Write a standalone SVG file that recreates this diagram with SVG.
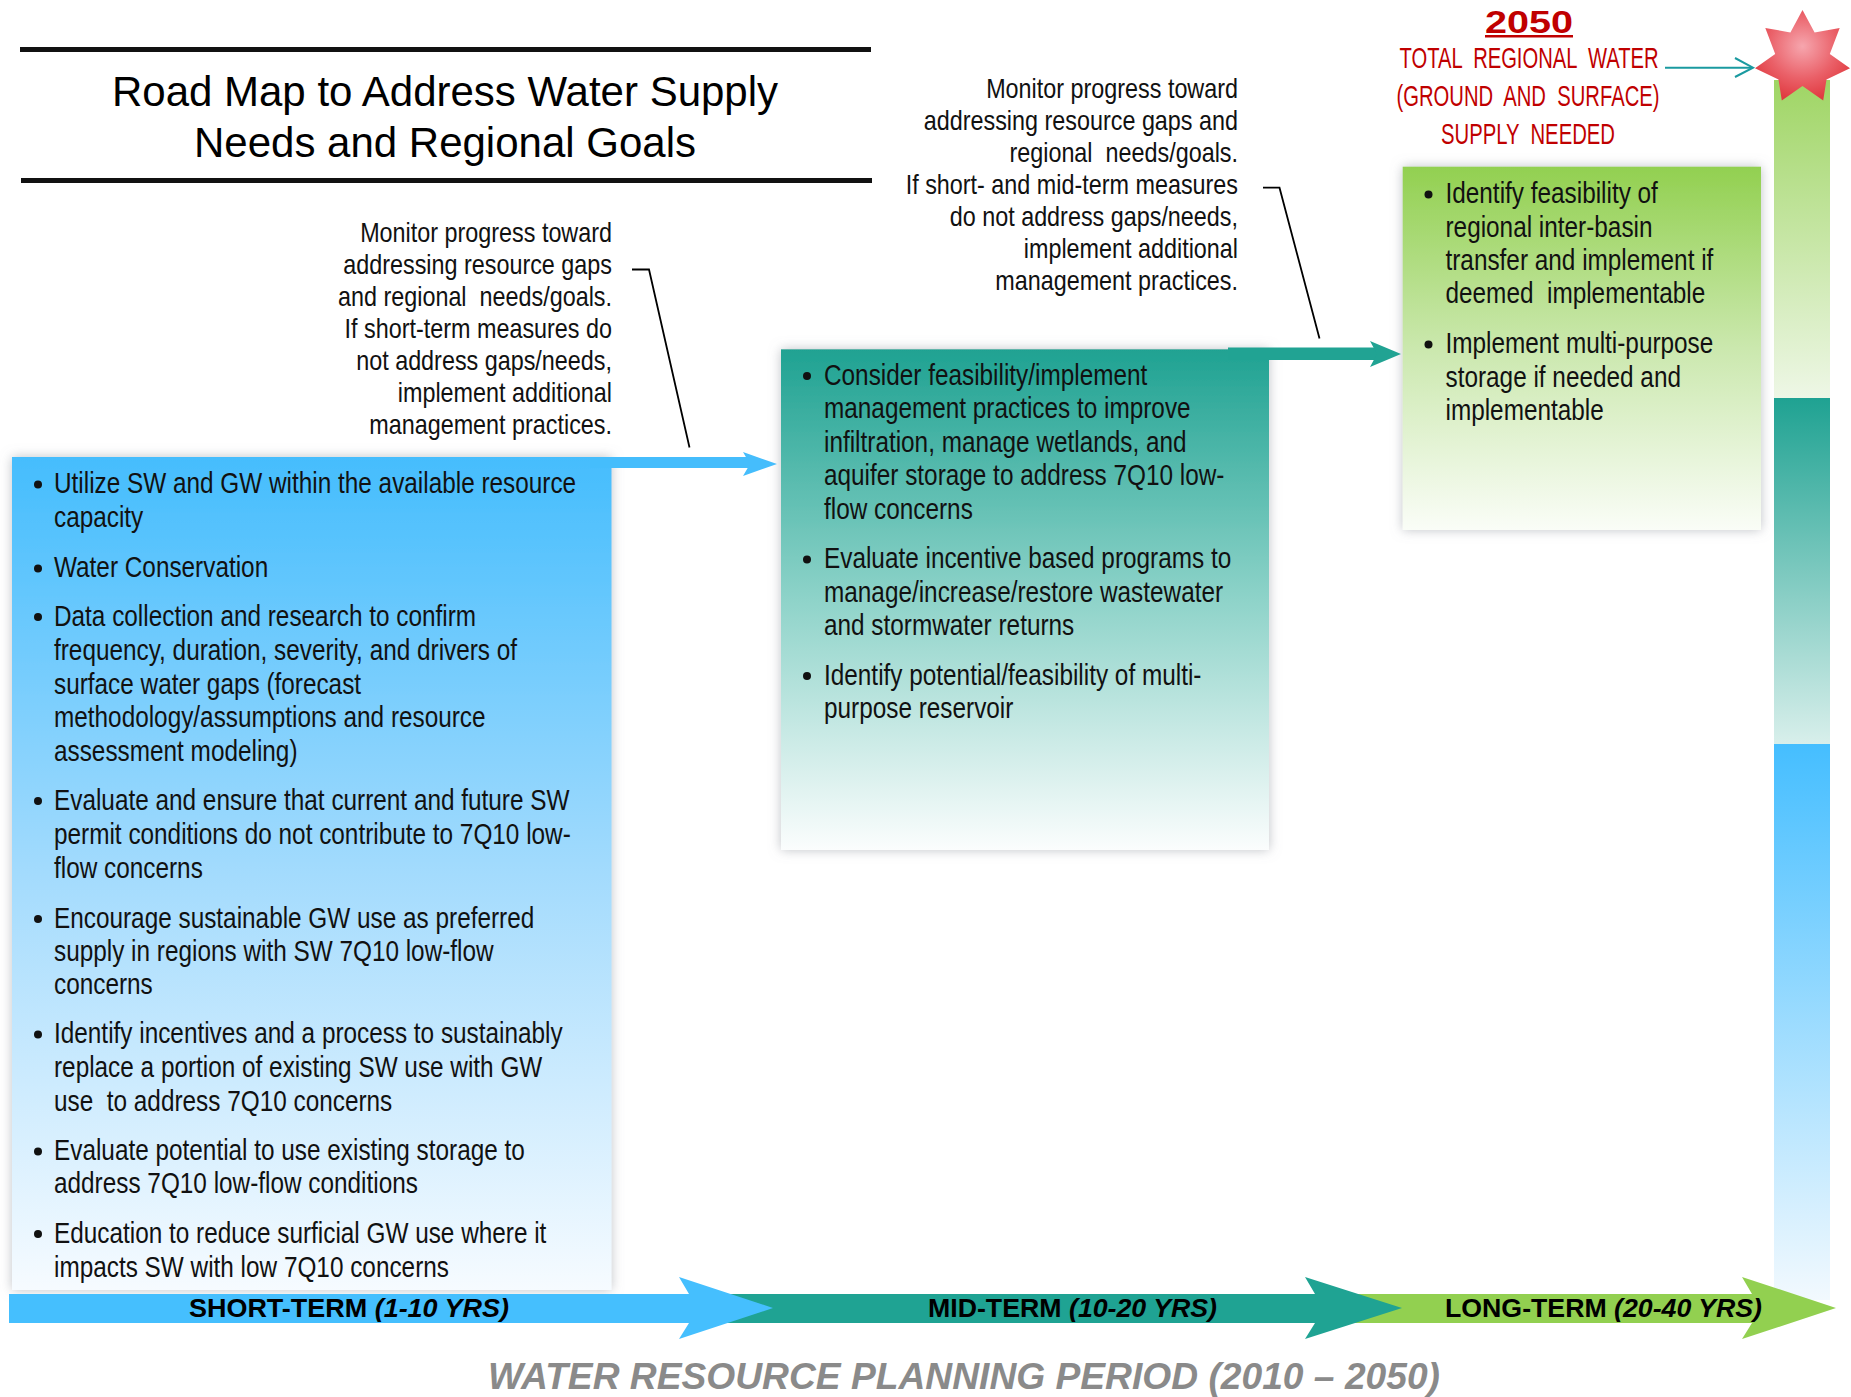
<svg xmlns="http://www.w3.org/2000/svg" width="1851" height="1397" viewBox="0 0 1851 1397">
<defs>
<style>
.t{font-family:"Liberation Sans",Arial,sans-serif;font-size:29.7px;fill:#111;}
.c{font-family:"Liberation Sans",Arial,sans-serif;font-size:28.5px;fill:#111;text-anchor:end;}
.title{font-family:"Liberation Sans",Arial,sans-serif;font-size:42px;fill:#000;text-anchor:middle;}
.red{font-family:"Liberation Sans",Arial,sans-serif;font-size:30px;fill:#C00000;text-anchor:middle;}
.band{font-family:"Liberation Sans",Arial,sans-serif;font-size:26px;font-weight:bold;fill:#000;text-anchor:middle;}
.lead{fill:none;stroke:#000;stroke-width:1.8;}
</style>
<linearGradient id="gBlue" x1="0" y1="0" x2="0" y2="1"><stop offset="0" stop-color="#45BDFD"/><stop offset="0.5" stop-color="#A3DBFD"/><stop offset="1" stop-color="#F6FBFF"/></linearGradient>
<linearGradient id="gTeal" x1="0" y1="0" x2="0" y2="1"><stop offset="0" stop-color="#1FA292"/><stop offset="0.5" stop-color="#8ED3C9"/><stop offset="1" stop-color="#FBFDFD"/></linearGradient>
<linearGradient id="gGreen" x1="0" y1="0" x2="0" y2="1"><stop offset="0" stop-color="#92D050"/><stop offset="0.5" stop-color="#CBE8AE"/><stop offset="1" stop-color="#FAFDF7"/></linearGradient>
<linearGradient id="bGreen" x1="0" y1="0" x2="0" y2="1"><stop offset="0" stop-color="#9FD564"/><stop offset="1" stop-color="#EEF7E6"/></linearGradient>
<linearGradient id="bTeal" x1="0" y1="0" x2="0" y2="1"><stop offset="0" stop-color="#1FA292"/><stop offset="1" stop-color="#D8EFEB"/></linearGradient>
<linearGradient id="bBlue" x1="0" y1="0" x2="0" y2="1"><stop offset="0" stop-color="#45BEFF"/><stop offset="1" stop-color="#F2F9FE"/></linearGradient>
<radialGradient id="gStar" cx="0.5" cy="0.4" r="0.6"><stop offset="0" stop-color="#F6A6AE"/><stop offset="0.6" stop-color="#EA6068"/><stop offset="1" stop-color="#E03A40"/></radialGradient>
<filter id="sh" x="-10%" y="-10%" width="120%" height="120%"><feDropShadow dx="0" dy="0" stdDeviation="6" flood-color="#8a9098" flood-opacity="0.55"/></filter>
</defs>
<rect width="1851" height="1397" fill="#fff"/>

<g id="title">
<rect x="20" y="47" width="851" height="5" fill="#111"/>
<rect x="21" y="178" width="851" height="5" fill="#111"/>
<text class="title" x="445" y="106">Road Map to Address Water Supply</text>
<text class="title" x="445" y="157">Needs and Regional Goals</text>
</g>

<g id="vertical-bar">
<rect x="1774" y="80" width="56" height="318" fill="url(#bGreen)"/>
<rect x="1774" y="398" width="56" height="346" fill="url(#bTeal)"/>
<rect x="1774" y="744" width="56" height="556" fill="url(#bBlue)"/>
</g>

<g id="star-2050">
<polygon fill="url(#gStar)" points="1802.5,10 1814.6,32.5 1839.7,27.9 1829.8,53.9 1850,68.3 1826.5,79.6 1823.2,100.6 1802.5,86 1781.8,100.6 1778.5,79.6 1755,68.3 1775.2,53.9 1765.3,27.9 1790.4,32.5"/>
</g>

<g id="goal-label">
<text x="1529" y="33" font-family="Liberation Sans,Arial,sans-serif" font-size="32" font-weight="bold" fill="#C00000" text-anchor="middle" textLength="88" lengthAdjust="spacingAndGlyphs">2050</text>
<rect x="1485" y="35" width="88" height="2.5" fill="#C00000"/>
<text class="red" x="1529" y="68" textLength="259" lengthAdjust="spacingAndGlyphs" xml:space="preserve">TOTAL  REGIONAL  WATER</text>
<text class="red" x="1528" y="106" textLength="263" lengthAdjust="spacingAndGlyphs" xml:space="preserve">(GROUND  AND  SURFACE)</text>
<text class="red" x="1528" y="144" textLength="174" lengthAdjust="spacingAndGlyphs" xml:space="preserve">SUPPLY  NEEDED</text>
</g>

<g id="connectors">
<line x1="1665" y1="67.7" x2="1752" y2="67.7" stroke="#1A9AA0" stroke-width="2"/>
<polyline points="1735,58 1753,67.7 1735,77" fill="none" stroke="#1A9AA0" stroke-width="2"/>
<polyline class="lead" points="632,269.5 649,269.5 689.5,447.5"/>
<polyline class="lead" points="1263,187.7 1279.5,187.7 1319.5,338.5"/>
</g>

<g id="box-short" filter="url(#sh)">
<rect x="12" y="457" width="599.5" height="833" fill="url(#gBlue)"/>
</g>
<g id="box-mid" filter="url(#sh)">
<rect x="781" y="349.3" width="488" height="500.7" fill="url(#gTeal)"/>
</g>
<g id="box-long" filter="url(#sh)">
<rect x="1402.7" y="166.7" width="358.3" height="363.3" fill="url(#gGreen)"/>
</g>

<g id="arrows-top">
<rect x="590" y="457" width="160" height="11" fill="#45BDFC"/>
<polygon points="743,452 777,464 743,476 750,464" fill="#45BDFC"/>
<rect x="1228" y="347.5" width="150" height="12.5" fill="#21A393"/>
<polygon points="1370,341 1401,354 1370,367 1377,354" fill="#21A393"/>
</g>

<g id="text-short">
<g fill="#111">
<circle cx="38" cy="484.5" r="4"/><circle cx="38" cy="568.5" r="4"/><circle cx="38" cy="617" r="4"/><circle cx="38" cy="801" r="4"/><circle cx="38" cy="919" r="4"/><circle cx="38" cy="1034.5" r="4"/><circle cx="38" cy="1151.5" r="4"/><circle cx="38" cy="1234" r="4"/>
</g>
<g transform="translate(54 0) scale(0.82 1)">
<text class="t" x="0" y="493.5">Utilize SW and GW within the available resource</text>
<text class="t" x="0" y="527">capacity</text>
<text class="t" x="0" y="577.5">Water Conservation</text>
<text class="t" x="0" y="626">Data collection and research to confirm</text>
<text class="t" x="0" y="660">frequency, duration, severity, and drivers of</text>
<text class="t" x="0" y="694">surface water gaps (forecast</text>
<text class="t" x="0" y="727.5">methodology/assumptions and resource</text>
<text class="t" x="0" y="761.5">assessment modeling)</text>
<text class="t" x="0" y="810">Evaluate and ensure that current and future SW</text>
<text class="t" x="0" y="844">permit conditions do not contribute to 7Q10 low-</text>
<text class="t" x="0" y="878">flow concerns</text>
<text class="t" x="0" y="928">Encourage sustainable GW use as preferred</text>
<text class="t" x="0" y="961">supply in regions with SW 7Q10 low-flow</text>
<text class="t" x="0" y="994">concerns</text>
<text class="t" x="0" y="1043.5">Identify incentives and a process to sustainably</text>
<text class="t" x="0" y="1077.5">replace a portion of existing SW use with GW</text>
<text class="t" x="0" y="1111" xml:space="preserve">use  to address 7Q10 concerns</text>
<text class="t" x="0" y="1160.5">Evaluate potential to use existing storage to</text>
<text class="t" x="0" y="1193.5">address 7Q10 low-flow conditions</text>
<text class="t" x="0" y="1243">Education to reduce surficial GW use where it</text>
<text class="t" x="0" y="1277">impacts SW with low 7Q10 concerns</text>
</g>
</g>

<g id="text-mid">
<g fill="#111">
<circle cx="807" cy="376" r="4"/><circle cx="807" cy="559.5" r="4"/><circle cx="807" cy="676" r="4"/>
</g>
<g transform="translate(824 0) scale(0.82 1)">
<text class="t" x="0" y="385">Consider feasibility/implement</text>
<text class="t" x="0" y="418">management practices to improve</text>
<text class="t" x="0" y="452">infiltration, manage wetlands, and</text>
<text class="t" x="0" y="485">aquifer storage to address 7Q10 low-</text>
<text class="t" x="0" y="519">flow concerns</text>
<text class="t" x="0" y="568.5">Evaluate incentive based programs to</text>
<text class="t" x="0" y="602">manage/increase/restore wastewater</text>
<text class="t" x="0" y="635">and stormwater returns</text>
<text class="t" x="0" y="685">Identify potential/feasibility of multi-</text>
<text class="t" x="0" y="718.5">purpose reservoir</text>
</g>
</g>

<g id="text-long">
<g fill="#111">
<circle cx="1428.5" cy="194.5" r="4"/><circle cx="1428.5" cy="344.5" r="4"/>
</g>
<g transform="translate(1445.5 0) scale(0.82 1)">
<text class="t" x="0" y="203.5">Identify feasibility of</text>
<text class="t" x="0" y="237">regional inter-basin</text>
<text class="t" x="0" y="270">transfer and implement if</text>
<text class="t" x="0" y="303.5" xml:space="preserve">deemed  implementable</text>
<text class="t" x="0" y="353.5">Implement multi-purpose</text>
<text class="t" x="0" y="387">storage if needed and</text>
<text class="t" x="0" y="420">implementable</text>
</g>
</g>

<g id="callout-1" transform="translate(612 0) scale(0.82 1)">
<text class="c" x="0" y="242">Monitor progress toward</text>
<text class="c" x="0" y="274">addressing resource gaps</text>
<text class="c" x="0" y="306" xml:space="preserve">and regional  needs/goals.</text>
<text class="c" x="0" y="338">If short-term measures do</text>
<text class="c" x="0" y="370">not address gaps/needs,</text>
<text class="c" x="0" y="402">implement additional</text>
<text class="c" x="0" y="434">management practices.</text>
</g>

<g id="callout-2" transform="translate(1238 0) scale(0.82 1)">
<text class="c" x="0" y="98">Monitor progress toward</text>
<text class="c" x="0" y="130">addressing resource gaps and</text>
<text class="c" x="0" y="162" xml:space="preserve">regional  needs/goals.</text>
<text class="c" x="0" y="194">If short- and mid-term measures</text>
<text class="c" x="0" y="226">do not address gaps/needs,</text>
<text class="c" x="0" y="258">implement additional</text>
<text class="c" x="0" y="290">management practices.</text>
</g>

<g id="timeline">
<polygon fill="#92D050" points="1350,1294 1752,1294 1742,1277 1836,1308 1742,1339 1752,1323 1350,1323"/>
<polygon fill="#1FA393" points="720,1294 1315,1294 1305,1277 1402,1308 1305,1339 1315,1323 720,1323"/>
<polygon fill="#45BFFE" points="9,1294 689,1294 679,1277 773,1308 679,1339 689,1323 9,1323"/>
<text class="band" x="349" y="1317" textLength="320" lengthAdjust="spacingAndGlyphs">SHORT-TERM <tspan font-style="italic">(1-10 YRS)</tspan></text>
<text class="band" x="1072.5" y="1317" textLength="289" lengthAdjust="spacingAndGlyphs">MID-TERM <tspan font-style="italic">(10-20 YRS)</tspan></text>
<text class="band" x="1603.5" y="1317" textLength="317" lengthAdjust="spacingAndGlyphs">LONG-TERM <tspan font-style="italic">(20-40 YRS)</tspan></text>
<text x="964" y="1389" font-family="Liberation Sans,Arial,sans-serif" font-size="37" font-weight="bold" font-style="italic" fill="#8A8A8A" text-anchor="middle" textLength="952" lengthAdjust="spacingAndGlyphs">WATER RESOURCE PLANNING PERIOD (2010 – 2050)</text>
</g>
</svg>
